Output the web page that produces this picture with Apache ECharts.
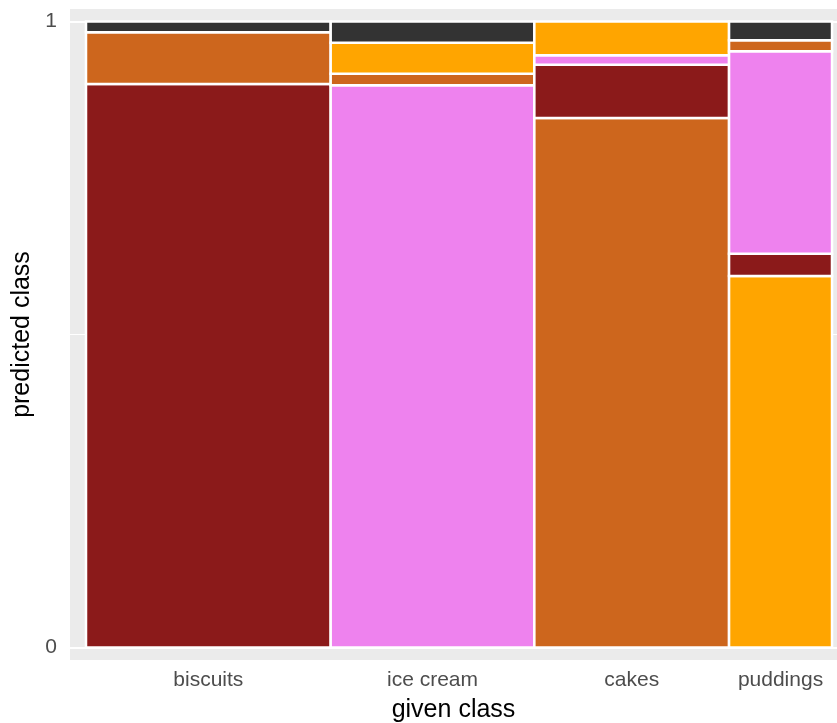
<!DOCTYPE html>
<html>
<head>
<meta charset="utf-8">
<script src="https://cdn.jsdelivr.net/npm/echarts@6/dist/echarts.min.js"></script>
<style>html,body{margin:0;padding:0;background:#fff;}#c{width:837px;height:723px;}</style>
</head>
<body>
<div id="c"></div>
<script>
// ---- data ----
const givenClasses = ['biscuits', 'ice cream', 'cakes', 'puddings'];
const givenShares = [0.328, 0.273, 0.261, 0.138];
const predictedClasses = ['biscuits', 'ice cream', 'cakes', 'puddings', 'other'];
const classColors = ['#8B1A1A', '#EE82EE', '#CD661D', '#FFA500', '#333333'];
// stacks per given class, bottom to top
const biscuitsStack = ['biscuits', 'cakes', 'other'];
const biscuitsShares = [0.900, 0.083, 0.017];
const iceCreamStack = ['ice cream', 'cakes', 'puddings', 'other'];
const iceCreamShares = [0.898, 0.0185, 0.0495, 0.034];
const cakesStack = ['cakes', 'biscuits', 'ice cream', 'puddings'];
const cakesShares = [0.846, 0.085, 0.015, 0.054];
const puddingsStack = ['puddings', 'biscuits', 'ice cream', 'cakes', 'other'];
const puddingsShares = [0.5935, 0.0355, 0.3235, 0.0175, 0.0300];
const yTickValues = [0, 1];

const stacks = [biscuitsStack, iceCreamStack, cakesStack, puddingsStack];
const shares = [biscuitsShares, iceCreamShares, cakesShares, puddingsShares];

// build rect table from the arrays
const rects = [];
const centers = [];
let xc = 0;
givenClasses.forEach((g, i) => {
  const x0 = xc, x1 = xc + givenShares[i];
  centers.push((x0 + x1) / 2);
  let yc = 0;
  stacks[i].forEach((p, j) => {
    const y0 = yc, y1 = yc + shares[i][j];
    rects.push({ value: [x0, x1, y0, y1, predictedClasses.indexOf(p)], name: g + ' / ' + p });
    yc = y1;
  });
  xc = x1;
});

const chart = echarts.init(document.getElementById('c'), null, { renderer: 'canvas' });
const font = "'Liberation Sans', Arial, Helvetica, sans-serif";
chart.setOption({
  animation: false,
  backgroundColor: '#ffffff',
  grid: { left: 70, right: 0, top: 9, bottom: 63, show: true, backgroundColor: '#EBEBEB', borderWidth: 0, containLabel: false, outerBoundsMode: 'none' },
  xAxis: {
    type: 'value', min: -0.02145, max: 1.0067,
    name: 'given class', nameLocation: 'middle', nameGap: 38,
    nameTextStyle: { fontSize: 25, color: '#000', fontFamily: font },
    axisLine: { show: false }, splitLine: { show: false },
    axisTick: { show: false },
    axisLabel: {
      customValues: centers, margin: 10, fontSize: 21, color: '#4D4D4D', fontFamily: font,
      formatter: (v) => {
        let best = 0;
        centers.forEach((c, i) => { if (Math.abs(c - v) < Math.abs(centers[best] - v)) best = i; });
        return givenClasses[best];
      }
    }
  },
  yAxis: {
    type: 'value', min: -0.02, max: 1.02,
    name: 'predicted class', nameLocation: 'middle', nameGap: 31,
    nameTextStyle: { fontSize: 25, color: '#000', fontFamily: font },
    axisLine: { show: false }, splitLine: { show: false },
    axisTick: { show: true, customValues: yTickValues, length: 5, lineStyle: { color: '#333333', width: 1.5 } },
    axisLabel: { customValues: yTickValues, margin: 13, fontSize: 21, color: '#4D4D4D', fontFamily: font }
  },
  series: [
    {
      type: 'line', data: [], z: 1, silent: true,
      markLine: {
        z: 1, silent: true, symbol: 'none', label: { show: false }, animation: false,
        data: [
          { yAxis: 0, lineStyle: { color: '#fff', width: 2, type: 'solid' } },
          { yAxis: 1, lineStyle: { color: '#fff', width: 2, type: 'solid' } },
          { yAxis: 0.5, lineStyle: { color: '#fff', width: 1, type: 'solid' } }
        ]
      }
    },
    {
      type: 'custom', z: 2,
      data: rects,
      encode: { x: [0, 1], y: [2, 3] },
      renderItem: (params, api) => {
        const p0 = api.coord([api.value(0), api.value(2)]);
        const p1 = api.coord([api.value(1), api.value(3)]);
        return {
          type: 'rect',
          shape: { x: p0[0], y: p1[1], width: p1[0] - p0[0], height: p0[1] - p1[1] },
          style: { fill: classColors[api.value(4)], stroke: '#ffffff', lineWidth: 2.5 }
        };
      }
    }
  ]
});
</script>
</body>
</html>
